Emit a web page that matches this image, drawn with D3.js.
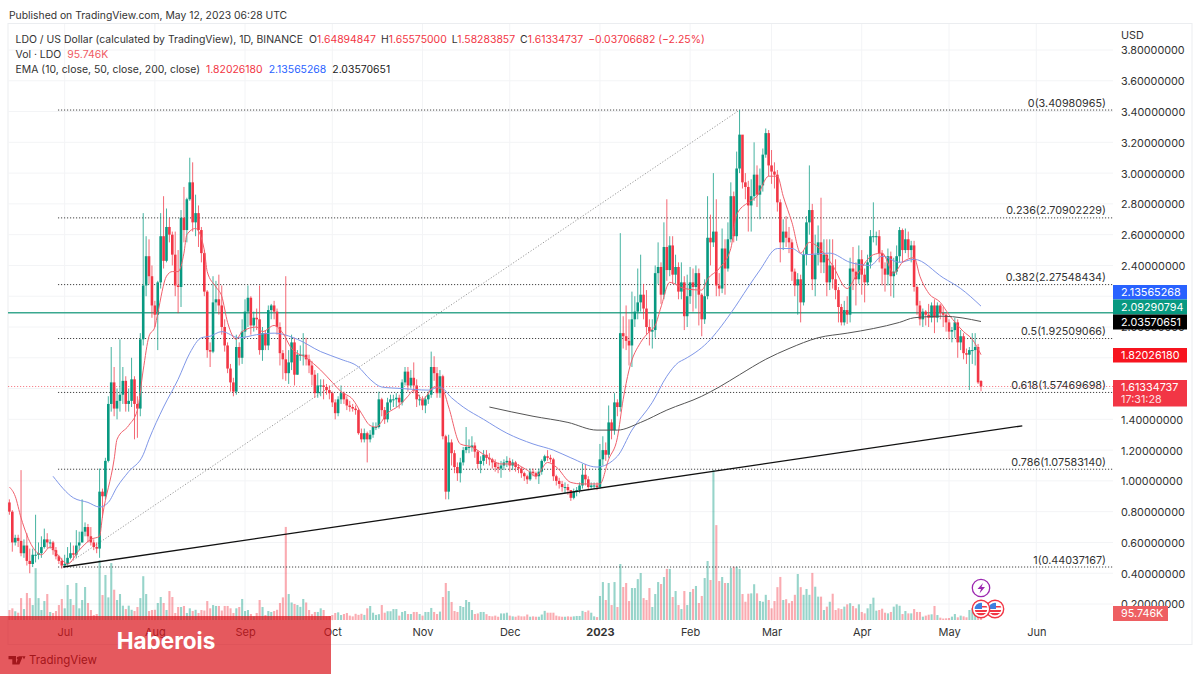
<!DOCTYPE html>
<html>
<head>
<meta charset="utf-8">
<script src="https://cdn.jsdelivr.net/npm/d3@7"></script>
<style>
  html, body { margin: 0; padding: 0; background: #fff; }
  svg { display: block; font-family: "Inter", "Noto Sans", sans-serif; }
</style>
</head>
<body>
<svg id="chart" width="1200" height="675"></svg>
<script>
// daily candles, one row per month (Jun 12 2022 .. May 12 2023)
const firstOpen = 0.86;
const closes = [
  .80,.60,.63,.61,.53,.58,.48,.46,.52,.52,.53,.57,.62,.60,.60,.55,.51,.48,.45,
  .46,.50,.53,.52,.58,.60,.67,.70,.64,.60,.57,.56,.93,.90,1.13,1.50,1.64,1.47,1.52,1.56,1.65,1.50,1.52,1.66,1.50,1.47,1.92,2.27,2.46,2.33,2.14,
  2.08,2.29,2.59,2.43,2.65,2.6,2.47,2.27,2.26,2.71,2.63,2.83,2.94,2.68,2.74,2.63,2.48,2.23,1.85,1.84,2.16,2.18,2.14,2.0,1.88,1.73,1.64,1.58,1.87,1.80,1.97,
  2.1,2.19,2.01,2.06,2.05,1.85,1.96,1.88,2.11,2.14,2.1,2.0,1.83,1.79,1.70,1.77,1.90,1.69,1.82,1.82,1.82,1.79,1.75,1.69,1.57,1.62,1.62,1.61,1.59,1.57,
  1.51,1.44,1.53,1.57,1.53,1.49,1.48,1.47,1.46,1.31,1.27,1.31,1.27,1.30,1.35,1.35,1.53,1.46,1.40,1.51,1.53,1.53,1.54,1.51,1.64,1.71,1.62,1.67,1.62,1.53,1.53,
  1.49,1.53,1.56,1.74,1.70,1.57,1.68,1.29,.93,1.25,1.18,1.09,1.05,1.12,1.2,1.22,1.22,1.23,1.19,1.11,1.13,1.17,1.15,1.14,1.12,1.09,1.08,1.1,1.12,1.13,
  1.10,1.12,1.09,1.08,1.05,1.03,1.01,1.06,1.05,1.03,1.06,1.13,1.16,1.15,1.14,1.03,1.0,.98,.96,.96,.94,.89,.93,.94,.97,1.04,1.01,.96,.97,.97,.96,
  1.14,1.2,1.17,1.38,1.33,1.51,1.48,1.96,1.94,1.91,1.88,2.05,2.1,2.16,2.21,2.12,2.0,1.97,1.98,2.35,2.39,2.21,2.52,2.37,2.53,2.34,2.39,2.23,2.29,2.07,2.2,
  2.29,2.26,2.35,2.21,2.05,2.2,2.58,2.55,2.62,2.27,2.25,2.51,2.38,2.57,2.85,2.59,3.03,3.25,2.94,2.91,2.79,2.85,2.99,2.86,2.92,3.12,3.26,3.05,
  3.01,2.99,2.81,2.55,2.62,2.58,2.55,2.36,2.27,2.31,2.16,2.47,2.68,2.76,2.31,2.47,2.55,2.42,2.47,2.29,2.4,2.31,2.24,2.13,2.03,2.11,2.08,2.38,2.36,2.31,2.44,
  2.34,2.29,2.42,2.59,2.59,2.59,2.48,2.38,2.34,2.46,2.33,2.36,2.46,2.63,2.5,2.57,2.5,2.53,2.26,2.14,2.05,2.1,2.08,2.06,2.14,2.06,2.14,2.09,2.08,2.03,
  1.97,1.98,2.03,1.9,1.94,1.83,1.82,1.85,1.85,1.87,1.64,1.61334737
];
const highs = [
  .88,.81,.65,.65,1.07,.62,.66,.56,.56,.78,.60,.64,.69,.66,.62,.61,.57,.52,.50,
  .52,.57,.60,.58,.68,.67,.88,.73,.72,.70,.62,.60,1.08,.95,1.15,1.55,1.87,1.74,1.6,1.92,1.74,1.68,1.6,1.80,1.68,1.55,1.96,2.74,2.59,2.57,2.4,
  2.17,2.3,2.74,2.85,2.77,2.71,2.62,2.62,2.5,2.76,2.91,2.84,3.10,3.07,2.86,2.79,2.65,2.5,2.24,1.9,2.33,2.3,2.34,2.27,2.05,1.9,1.76,1.67,1.95,1.9,2.05,
  2.18,2.27,2.2,2.1,2.12,2.27,2.0,1.98,2.14,2.15,2.17,2.12,2.03,1.85,2.33,1.85,1.95,1.93,1.85,1.88,1.96,1.93,1.82,1.78,1.72,1.7,1.66,1.66,1.63,1.62,
  1.58,1.53,1.55,1.62,1.58,1.55,1.52,1.5,1.49,1.47,1.34,1.34,1.32,1.33,1.38,1.38,1.58,1.54,1.48,1.54,1.56,1.56,1.57,1.56,1.66,1.74,1.74,1.72,1.77,1.66,1.56,
  1.55,1.55,1.58,1.84,1.81,1.74,1.72,1.69,1.3,1.3,1.27,1.2,1.12,1.15,1.22,1.35,1.27,1.29,1.25,1.2,1.16,1.2,1.2,1.18,1.15,1.14,1.12,1.13,1.14,1.16,
  1.15,1.14,1.13,1.11,1.09,1.06,1.04,1.08,1.08,1.06,1.08,1.14,1.17,1.2,1.17,1.15,1.04,1.02,1.0,.99,.98,.94,.95,.96,.99,1.11,1.11,1.03,.99,.99,.99,
  1.24,1.29,1.25,1.49,1.4,1.57,1.53,2.61,2.07,2.14,2.05,2.23,2.2,2.38,2.47,2.28,2.24,2.05,2.05,2.4,2.55,2.42,2.68,2.83,2.59,2.59,2.47,2.42,2.42,2.33,2.34,
  2.39,2.38,2.4,2.38,2.22,2.31,2.85,2.73,3.0,2.83,2.35,2.64,2.57,2.68,2.94,2.88,3.14,3.41,3.24,3.0,2.95,2.96,3.2,3.05,3.03,3.16,3.29,3.28,
  3.15,3.07,3.02,2.83,2.7,2.72,2.65,2.57,2.38,2.35,2.34,2.5,2.72,3.05,2.8,2.6,2.66,2.84,2.57,2.57,2.57,2.57,2.44,2.26,2.15,2.17,2.2,2.45,2.52,2.42,2.53,
  2.5,2.38,2.47,2.63,2.81,2.62,2.63,2.5,2.42,2.51,2.49,2.45,2.53,2.65,2.64,2.64,2.62,2.56,2.56,2.27,2.17,2.12,2.11,2.15,2.16,2.18,2.16,2.15,2.13,2.09,
  2.05,2.0,2.06,2.05,1.98,1.96,1.86,1.87,1.96,1.96,1.89,1.655
];
const lows = [
  .78,.54,.58,.57,.51,.50,.45,.40,.44,.47,.49,.50,.56,.56,.56,.52,.49,.46,.43,
  .44,.45,.49,.49,.50,.55,.60,.64,.60,.58,.55,.53,.50,.76,.88,1.12,1.45,1.42,1.4,1.45,1.5,1.45,1.45,1.48,1.27,1.28,1.42,1.88,2.2,2.28,2.06,
  2.0,1.85,2.25,2.38,2.42,2.55,2.4,2.2,2.09,2.13,2.55,2.55,2.82,2.62,2.59,2.52,2.42,2.2,1.8,1.74,1.83,2.1,2.08,1.95,1.84,1.7,1.58,1.55,1.56,1.75,1.76,
  1.93,2.0,1.95,1.97,1.98,1.82,1.78,1.85,1.85,2.05,2.05,1.95,1.75,1.66,1.65,1.63,1.72,1.62,1.69,1.78,1.75,1.75,1.7,1.62,1.54,1.54,1.55,1.53,1.56,1.53,
  1.48,1.4,1.42,1.5,1.5,1.46,1.45,1.45,1.43,1.3,1.25,1.25,1.12,1.25,1.28,1.33,1.34,1.42,1.37,1.38,1.46,1.48,1.48,1.47,1.49,1.62,1.58,1.6,1.57,1.48,1.49,
  1.46,1.44,1.5,1.54,1.65,1.54,1.54,1.27,.88,.88,1.1,1.05,1.0,.99,1.1,1.18,1.18,1.19,1.15,1.08,1.05,1.1,1.11,1.1,1.08,1.06,1.05,1.02,1.07,1.09,
  1.06,1.07,1.06,1.05,1.02,1.0,.98,1.0,1.03,1.01,.98,1.04,1.12,1.13,1.12,1.0,.97,.95,.93,.92,.91,.87,.88,.9,.92,.95,.97,.94,.95,.95,.94,
  .95,1.1,1.13,1.15,1.27,1.3,1.42,1.45,1.86,1.85,1.75,1.74,2.0,2.05,2.1,2.05,1.95,1.88,1.86,1.93,2.28,2.15,2.18,2.3,2.33,2.28,2.28,2.18,2.18,1.98,2.0,
  2.15,2.1,2.12,2.01,1.94,2.02,2.18,2.4,2.52,2.2,2.2,2.22,2.21,2.36,2.55,2.55,2.56,3.0,2.9,2.83,2.62,2.62,2.82,2.78,2.7,2.88,3.1,2.98,
  2.93,2.9,2.75,2.42,2.5,2.52,2.48,2.3,2.2,2.08,2.03,2.14,2.4,2.6,2.24,2.2,2.4,2.35,2.35,2.2,2.24,2.25,2.18,2.03,2.01,2.01,2.02,2.03,2.24,2.14,2.28,
  2.21,2.16,2.27,2.38,2.55,2.53,2.42,2.27,2.23,2.27,2.2,2.19,2.34,2.42,2.42,2.48,2.45,2.42,2.23,2.08,2.01,2.0,2.01,2.0,2.03,1.96,2.03,2.05,2.0,1.97,
  1.92,1.9,1.93,1.8,1.85,1.79,1.76,1.59,1.76,1.75,1.63,1.58283857
];
// volume in thousands of LDO
const volumes = [
  137,160,120,100,300,150,370,300,205,710,300,137,260,356,110,96,123,205,288,
  160,480,288,205,507,160,274,452,233,137,68,82,820,342,617,310,780,415,274,356,196,150,196,140,123,178,300,600,356,123,137,
  140,233,315,233,137,397,315,96,178,178,192,96,160,123,140,96,137,130,260,160,205,192,192,130,192,192,160,96,160,178,288,
  123,137,82,50,96,274,178,68,123,110,123,140,233,310,1275,356,240,220,205,180,288,240,137,80,110,110,160,137,50,55,
  68,96,105,68,82,96,60,50,85,70,85,70,160,192,100,70,80,205,100,120,120,150,150,60,110,123,82,82,110,110,82,
  60,110,110,165,110,82,115,315,507,397,247,123,110,192,178,274,247,137,82,90,110,110,80,55,50,60,45,90,90,100,
  60,50,45,60,50,50,75,45,50,45,45,75,125,100,100,100,60,50,45,45,50,45,50,55,55,125,110,130,100,50,40,
  329,520,274,507,205,520,178,767,452,507,260,438,438,560,644,300,274,438,178,356,520,493,589,700,700,315,397,205,150,397,205,
  384,425,466,233,329,575,808,548,2055,1300,534,589,507,507,712,730,730,700,356,250,360,365,490,365,260,250,345,274,
  160,260,450,590,274,285,230,260,345,630,450,345,425,345,645,456,320,320,137,183,250,360,137,160,150,183,215,230,192,160,215,
  110,91,160,220,306,128,137,155,100,91,110,183,215,195,82,123,91,91,150,110,110,46,60,73,78,192,68,32,20,23,
  27,46,82,37,60,50,37,137,160,190,120,95.746
];

// EMA lines, read at the bends: day number and price
const ema10Days = [0,2,4,8,11,14,17,20,24,28,31,32,36,37,41,44,46,48,50,51,54,56,58,60,61,64,67,68,71,73,75,78,80,85,87,91,94,97,102,107,111,114,118,121,124,126,130,134,137,139,142,146,149,151,155,159,164,169,173,178,181,185,188,193,197,203,206,209,211,213,217,220,222,224,227,232,238,240,244,248,250,254,257,261,264,266,269,272,275,279,283,288,291,297,300,304,307,311,313,316,320,323,328,331,334];
const ema10Vals = [.96,.90,.76,.57,.52,.57,.51,.46,.55,.62,.64,.77,1.14,1.27,1.36,1.46,1.72,1.94,2.0,2.09,2.33,2.36,2.36,2.48,2.6,2.64,2.5,2.36,2.26,2.2,2.03,1.92,1.97,2.0,1.97,2.01,1.96,1.86,1.8,1.72,1.64,1.58,1.53,1.44,1.36,1.35,1.44,1.49,1.55,1.59,1.53,1.61,1.59,1.48,1.24,1.22,1.16,1.11,1.11,1.07,1.03,1.12,1.09,.99,.98,.98,1.14,1.28,1.53,1.72,1.9,1.97,2.01,2.13,2.29,2.25,2.24,2.31,2.38,2.51,2.73,2.81,2.85,2.98,2.98,2.85,2.68,2.48,2.55,2.5,2.4,2.25,2.33,2.47,2.48,2.35,2.42,2.45,2.33,2.22,2.16,2.08,1.97,1.92,1.82026];
const ema50Days = [15,22,27,31,34,37,41,46,48,53,58,62,66,69,73,79,85,91,99,107,114,120,124,128,135,144,148,152,156,163,171,180,187,193,202,209,214,221,226,230,232,240,248,254,258,264,269,273,282,289,296,300,306,311,321,327,334];
const ema50Vals = [1.03,.89,.86,.83,.86,.96,1.06,1.17,1.27,1.48,1.66,1.83,1.93,1.94,1.97,1.93,1.95,1.96,1.92,1.84,1.79,1.74,1.66,1.61,1.6,1.59,1.61,1.54,1.48,1.4,1.31,1.24,1.2,1.15,1.09,1.16,1.33,1.51,1.68,1.77,1.79,1.9,2.09,2.26,2.37,2.51,2.51,2.47,2.48,2.42,2.4,2.46,2.42,2.44,2.32,2.25,2.13565];
const ema200Days = [165,180,192,202,209,217,226,238,244,251,260,268,278,288,297,306,311,321,334];
const ema200Vals = [1.48,1.42,1.38,1.33,1.33,1.38,1.46,1.55,1.61,1.69,1.79,1.86,1.93,1.96,1.99,2.03,2.06,2.07,2.03571];

const priceTicks = [.2,.4,.6,.8,1,1.2,1.4,1.6,1.8,2,2.2,2.4,2.6,2.8,3,3.2,3.4,3.6,3.8];
const hiddenTicks = [1.6,1.8,2.2];   // sit fully under the price badges in the picture
const monthDays = [19,50,81,111,142,172,203,234,262,293,323,353];
const monthLabels = ["Jul","Aug","Sep","Oct","Nov","Dec","2023","Feb","Mar","Apr","May","Jun"];

const fibRatios = ["0","0.236","0.382","0.5","0.618","0.786","1"];
const fibPrices = [3.40980965,2.70902229,2.27548434,1.92509066,1.57469698,1.07583140,0.44037167];
const fibSpan = [16.7, 379.5];   // days
const trendDays = [18.5, 348.2];
const trendVals = [0.4404, 1.358];
const fibDiagDays = [18.5, 251];
const fibDiagVals = [0.44037167, 3.40980965];

const upColor = "#089981", downColor = "#f23645";
const left = 8, right = 1113, axisX = 1121;

const svg = d3.select("#chart");
const x = d3.scaleLinear().domain([0, 334]).range([9.4, 981]);
const y = d3.scaleLinear().domain([.2, 3.8]).range([604, 50]);
const yVol = d3.scaleLinear().domain([0, 2055]).range([620, 470]);

const opens = closes.map((c, i) => i ? closes[i - 1] : firstOpen);
opens[334] = 1.64894847;   // last open is in the header

// frame and grid
svg.append("rect").attr("x", left).attr("y", 23.5).attr("width", 1184).attr("height", 621)
    .attr("fill", "none").attr("stroke", "#ebedf0");
svg.append("g").selectAll("line").data(priceTicks).join("line")
    .attr("x1", left).attr("x2", right)
    .attr("y1", d => y(d)).attr("y2", d => y(d))
    .attr("stroke", "#f3f4f6");
svg.append("g").selectAll("line").data(monthDays).join("line")
    .attr("x1", d => x(d)).attr("x2", d => x(d))
    .attr("y1", 24).attr("y2", 621)
    .attr("stroke", "#f3f4f6");

// volume
svg.append("g").selectAll("rect").data(volumes).join("rect")
    .attr("x", (d, i) => x(i) - 1)
    .attr("width", 2.1)
    .attr("y", d => yVol(d))
    .attr("height", d => 620 - yVol(d))
    .attr("fill", (d, i) => closes[i] >= opens[i] ? upColor : downColor)
    .attr("fill-opacity", .42);

// fib levels
const dotted = "1.2 1.8";
const fib = svg.append("g");
fib.selectAll("line").data(fibPrices).join("line")
    .attr("x1", x(fibSpan[0])).attr("x2", x(fibSpan[1]))
    .attr("y1", d => y(d)).attr("y2", d => y(d))
    .attr("stroke", "#444").attr("stroke-dasharray", dotted);
fib.selectAll("text").data(fibPrices).join("text")
    .attr("x", 1106).attr("y", d => y(d) - 3.5)
    .attr("text-anchor", "end")
    .attr("font-size", 10.8).attr("fill", "#333")
    .text((d, i) => `${fibRatios[i]}(${d3.format(".8f")(d)})`);
svg.append("line")
    .attr("x1", x(fibDiagDays[0])).attr("y1", y(fibDiagVals[0]))
    .attr("x2", x(fibDiagDays[1])).attr("y2", y(fibDiagVals[1]))
    .attr("stroke", "#999").attr("stroke-dasharray", dotted);

// level lines across the chart
svg.append("line").attr("x1", left).attr("x2", right)
    .attr("y1", y(2.09290794)).attr("y2", y(2.09290794))
    .attr("stroke", "#3aa88f").attr("stroke-width", 1.4);
svg.append("line").attr("x1", left).attr("x2", right)
    .attr("y1", y(1.61334737)).attr("y2", y(1.61334737))
    .attr("stroke", downColor).attr("stroke-opacity", .6).attr("stroke-dasharray", dotted);

// candles
const candle = svg.append("g").selectAll("g").data(closes).join("g")
    .attr("fill", (d, i) => d >= opens[i] ? upColor : downColor)
    .attr("stroke", (d, i) => d >= opens[i] ? upColor : downColor);
candle.append("line")
    .attr("x1", (d, i) => x(i)).attr("x2", (d, i) => x(i))
    .attr("y1", (d, i) => y(highs[i])).attr("y2", (d, i) => y(lows[i]))
    .attr("stroke-opacity", .75);
candle.append("rect")
    .attr("x", (d, i) => x(i) - 1.3)
    .attr("width", 2.6)
    .attr("y", (d, i) => y(Math.max(d, opens[i])))
    .attr("height", (d, i) => Math.max(1, Math.abs(y(d) - y(opens[i]))))
    .attr("stroke", "none");

// EMAs
const line = d3.line().x(d => x(d[0])).y(d => y(d[1])).curve(d3.curveMonotoneX);
svg.append("path").attr("d", line(d3.zip(ema50Days, ema50Vals)))
    .attr("fill", "none").attr("stroke", "#7f97e8").attr("stroke-width", 1);
svg.append("path").attr("d", line(d3.zip(ema10Days, ema10Vals)))
    .attr("fill", "none").attr("stroke", "#f0606c").attr("stroke-width", 1);
svg.append("path").attr("d", line(d3.zip(ema200Days, ema200Vals)))
    .attr("fill", "none").attr("stroke", "#555").attr("stroke-width", 1);

// trend line
svg.append("line")
    .attr("x1", x(trendDays[0])).attr("y1", y(trendVals[0]))
    .attr("x2", x(trendDays[1])).attr("y2", y(trendVals[1]))
    .attr("stroke", "#111").attr("stroke-width", 1.3);

// axes
const yAxis = d3.axisRight(y).tickValues(priceTicks.filter(d => !hiddenTicks.includes(d)))
    .tickSize(0).tickPadding(0).tickFormat(d3.format(".8f"));
const gy = svg.append("g").attr("transform", `translate(${axisX},0.5)`).call(yAxis);
gy.select(".domain").remove();
gy.selectAll("text").attr("font-size", 10.8).attr("font-family", "Inter").attr("fill", "#333");

const xAxis = d3.axisBottom(x).tickValues(monthDays).tickSize(0).tickPadding(0).tickFormat((d, i) => monthLabels[i]);
const gx = svg.append("g").attr("transform", "translate(0,628)").call(xAxis);
gx.select(".domain").remove();
gx.selectAll("text").attr("font-size", 11).attr("font-family", "Inter").attr("fill", "#333")
    .attr("font-weight", d => d === 203 ? 700 : 400);

svg.append("text").attr("x", axisX).attr("y", 38.5).attr("font-size", 10.8).attr("fill", "#333").text("USD");

// price badges on the axis
const badges = [
  {v: "2.13565268", top: 285, h: 14.5, fill: "#2962ff"},
  {v: "2.09290794", top: 299.5, h: 15, fill: "#089981"},
  {v: "2.03570651", top: 314.5, h: 15, fill: "#000"},
  {v: "1.82026180", top: 348, h: 14.5, fill: "#f7141f"}
];
const badge = svg.append("g").selectAll("g").data(badges).join("g");
badge.append("rect").attr("x", right).attr("width", 74)
    .attr("y", d => d.top).attr("height", d => d.h).attr("fill", d => d.fill);
badge.append("text").attr("x", axisX).attr("y", d => d.top + d.h - 3.5)
    .attr("font-size", 10.8).attr("fill", "#fff").text(d => d.v);

svg.append("rect").attr("x", right).attr("y", 380).attr("width", 74).attr("height", 26.5).attr("fill", "#f23645");
svg.append("text").attr("x", axisX).attr("y", 391).attr("font-size", 10.8).attr("fill", "#fff").text("1.61334737");
svg.append("text").attr("x", axisX).attr("y", 403).attr("font-size", 10.8).attr("fill", "#fff").attr("fill-opacity", .85).text("17:31:28");

svg.append("rect").attr("x", right).attr("y", 606).attr("width", 55).attr("height", 15).attr("fill", "#ee5f62");
svg.append("text").attr("x", axisX).attr("y", 617).attr("font-size", 10.8).attr("fill", "#fff").text("95.746K");

// header
svg.append("text").attr("x", 9).attr("y", 19).attr("font-size", 10.35).attr("fill", "#333")
    .text("Published on TradingView.com, May 12, 2023 06:28 UTC");

function legendRow(yPos, parts) {
  const t = svg.append("text").attr("x", 15.5).attr("y", yPos).attr("font-size", 10.45).attr("fill", "#333");
  parts.forEach(p => t.append("tspan").attr("fill", p[1] || "#333").attr("dx", p[2] || 0).text(p[0]));
}
legendRow(42.5, [
  ["LDO / US Dollar (calculated by TradingView), 1D, BINANCE"],
  ["O", null, 6], ["1.64894847", downColor],
  ["H", null, 5], ["1.65575000", downColor],
  ["L", null, 5], ["1.58283857", downColor],
  ["C", null, 5], ["1.61334737", downColor],
  ["\u22120.03706682 (\u22122.25%)", downColor, 5]
]);
legendRow(57.5, [["Vol \u00b7 LDO"], ["95.746K", "#ef5b63", 6]]);
legendRow(72.5, [
  ["EMA (10, close, 50, close, 200, close)"],
  ["1.82026180", downColor, 6],
  ["2.13565268", "#2962ff", 6],
  ["2.03570651", "#222", 6]
]);

// event marks near the last candles
const marks = svg.append("g");
marks.append("circle").attr("cx", 981).attr("cy", 588).attr("r", 8.7)
    .attr("fill", "#fff").attr("stroke", "#9c27b0").attr("stroke-width", 1.3);
marks.append("path").attr("d", "M983 583 L977.5 589 L981 589 L979.5 593.5 L985 587 L981.5 587 Z").attr("fill", "#9c27b0");
const defs = svg.append("defs");
[995, 981].forEach((cx, n) => {
  defs.append("clipPath").attr("id", "flag" + n).append("circle").attr("cx", cx).attr("cy", 609).attr("r", 6.3);
  const f = marks.append("g");
  f.append("circle").attr("cx", cx).attr("cy", 609).attr("r", 8.7).attr("fill", "#fff").attr("stroke", "#f23645").attr("stroke-width", 1.4);
  const g = f.append("g").attr("clip-path", `url(#flag${n})`);
  g.append("rect").attr("x", cx - 7).attr("y", 602).attr("width", 14).attr("height", 14).attr("fill", "#fff");
  g.append("rect").attr("x", cx - 7).attr("y", 610).attr("width", 14).attr("height", 2).attr("fill", "#f23645");
  g.append("rect").attr("x", cx - 7).attr("y", 613).attr("width", 14).attr("height", 3).attr("fill", "#f23645");
  g.append("rect").attr("x", cx + 1).attr("y", 606).attr("width", 6).attr("height", 1.5).attr("fill", "#f23645");
  g.append("rect").attr("x", cx - 7).attr("y", 602).attr("width", 8).attr("height", 7).attr("fill", "#3d7fe0");
});

// TradingView mark and text, then the red banner over them
svg.append("path").attr("d", "M8.5 656h7.5v8.5h-3.7v-5.2h-3.8z M19 656.2l3.8 0 -3.4 8.3 -3.8 0z M22.5 656.2h3l-1.5 3.2z").attr("fill", "#222");
svg.append("circle").attr("cx", 18.3).attr("cy", 658).attr("r", 1.6).attr("fill", "#222");
svg.append("text").attr("x", 29).attr("y", 664).attr("font-size", 11.5).attr("fill", "#222").text("TradingView");

svg.append("rect").attr("x", 0).attr("y", 616).attr("width", 331).attr("height", 58)
    .attr("fill", "#da1319").attr("fill-opacity", .7);
svg.append("text").attr("x", 166).attr("y", 649).attr("text-anchor", "middle")
    .attr("font-size", 22.5).attr("font-weight", 700).attr("fill", "#fff").text("Haberois");
</script>
</body>
</html>
